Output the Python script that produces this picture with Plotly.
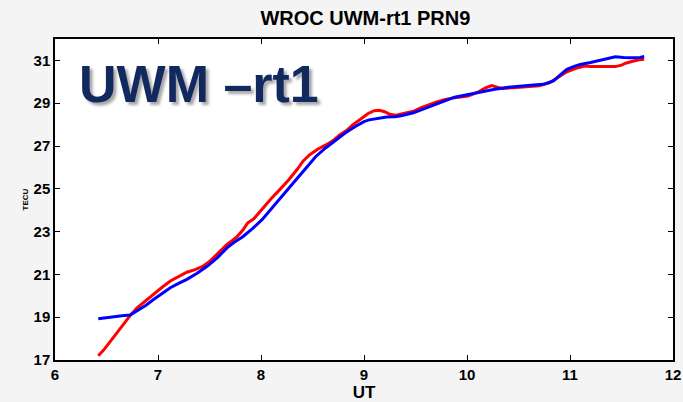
import plotly.graph_objects as go

# UT hours / TECU values
blue_ut = [6.42, 6.55, 6.65, 6.73, 6.80, 6.88, 6.96, 7.04, 7.12, 7.20, 7.28, 7.38, 7.48, 7.58,
           7.67, 7.74, 7.82, 7.92, 8.01, 8.08, 8.20, 8.34, 8.44, 8.53, 8.63, 8.73, 8.82, 8.92,
           9.00, 9.05, 9.15, 9.22, 9.30, 9.35, 9.48, 9.56, 9.64, 9.72, 9.80, 9.88, 9.94, 10.05,
           10.15, 10.27, 10.40, 10.51, 10.62, 10.74, 10.84, 10.90, 10.97, 11.04, 11.10, 11.20,
           11.27, 11.36, 11.44, 11.52, 11.60, 11.68, 11.72]
blue_tec = [18.93, 19.02, 19.07, 19.10, 19.30, 19.55, 19.84, 20.12, 20.38, 20.58, 20.77, 21.05,
            21.39, 21.80, 22.24, 22.50, 22.75, 23.15, 23.56, 23.95, 24.65, 25.42, 25.98, 26.50,
            26.92, 27.30, 27.62, 27.92, 28.14, 28.22, 28.32, 28.36, 28.37, 28.40, 28.55, 28.70,
            28.82, 29.00, 29.14, 29.28, 29.34, 29.45, 29.55, 29.65, 29.74, 29.80, 29.84, 29.88,
            30.04, 30.30, 30.58, 30.72, 30.81, 30.90, 30.97, 31.08, 31.17, 31.14, 31.12, 31.14,
            31.18]

red_ut = [6.42, 6.47, 6.53, 6.60, 6.66, 6.70, 6.74, 6.80, 6.88, 6.96, 7.04, 7.12, 7.20, 7.28,
          7.36, 7.44, 7.50, 7.57, 7.62, 7.67, 7.72, 7.77, 7.82, 7.87, 7.93, 8.01, 8.10, 8.18,
          8.27, 8.35, 8.41, 8.47, 8.55, 8.63, 8.70, 8.76, 8.83, 8.89, 8.96, 9.04, 9.10, 9.15,
          9.20, 9.25, 9.31, 9.38, 9.48, 9.55, 9.62, 9.70, 9.78, 9.88, 10.01, 10.10, 10.18, 10.24,
          10.30, 10.34, 10.45, 10.60, 10.70, 10.80, 10.88, 10.97, 11.05, 11.14, 11.20, 11.27,
          11.36, 11.44, 11.50, 11.54, 11.60, 11.67, 11.72]
red_tec = [17.20, 17.45, 17.82, 18.25, 18.67, 18.90, 19.14, 19.45, 19.78, 20.07, 20.40, 20.69,
           20.88, 21.10, 21.22, 21.39, 21.60, 21.93, 22.20, 22.40, 22.58, 22.78, 23.05, 23.40,
           23.60, 24.05, 24.55, 24.95, 25.42, 25.90, 26.30, 26.58, 26.85, 27.05, 27.25, 27.51,
           27.72, 27.98, 28.25, 28.52, 28.65, 28.67, 28.60, 28.48, 28.44, 28.52, 28.62, 28.78,
           28.92, 29.05, 29.16, 29.26, 29.33, 29.50, 29.72, 29.82, 29.74, 29.69, 29.72, 29.77,
           29.82, 29.95, 30.20, 30.47, 30.62, 30.74, 30.72, 30.71, 30.70, 30.71, 30.78, 30.87,
           30.95, 31.03, 31.05]

x_ticks = [6, 7, 8, 9, 10, 11, 12]
y_ticks = [17, 19, 21, 23, 25, 27, 29, 31]

title_text = "WROC UWM-rt1 PRN9"
big_label = "UWM \u2013rt1"

FONT = "Liberation Sans, Arial, sans-serif"

fig = go.Figure()
fig.add_trace(go.Scatter(x=red_ut, y=red_tec, mode="lines",
                         line=dict(color="#ff0000", width=3), showlegend=False))
fig.add_trace(go.Scatter(x=blue_ut, y=blue_tec, mode="lines",
                         line=dict(color="#0000ff", width=3), showlegend=False))

axis_common = dict(showline=True, linecolor="black", linewidth=1.5, mirror="allticks",
                   ticks="inside", ticklen=5, tickwidth=1, tickcolor="black",
                   showgrid=False, zeroline=False, automargin=False,
                   tickfont=dict(family=FONT, size=15, color="black", weight="bold"))

fig.update_xaxes(range=[6, 12], tickvals=x_ticks, ticktext=[str(v) for v in x_ticks],
                 title=dict(text="<b>UT</b>", font=dict(family=FONT, size=17, color="black"),
                            standoff=2),
                 **axis_common)
fig.update_yaxes(range=[17, 32], tickvals=y_ticks, ticktext=[str(v) for v in y_ticks],
                 title=dict(text="<b>TECU</b>", font=dict(family=FONT, size=8, color="black"),
                            standoff=4),
                 **axis_common)

fig.add_annotation(text="<b>" + big_label + "</b>", xref="paper", yref="paper",
                   x=0.233, y=0.86, xanchor="center", yanchor="middle", showarrow=False,
                   font=dict(family=FONT, size=52, color="#12295f",
                             shadow="3px 3px 3px rgba(0,0,0,0.35)"))

fig.update_layout(
    width=683, height=402,
    margin=dict(l=55, r=10, t=39, b=42),
    paper_bgcolor="#f4f4f4", plot_bgcolor="white",
    title=dict(text="<b>" + title_text + "</b>", x=0.535, xanchor="center",
               y=1 - 17.5 / 402, yref="container", yanchor="middle",
               font=dict(family=FONT, size=20, color="black")),
)

fig.write_html("out.html")
